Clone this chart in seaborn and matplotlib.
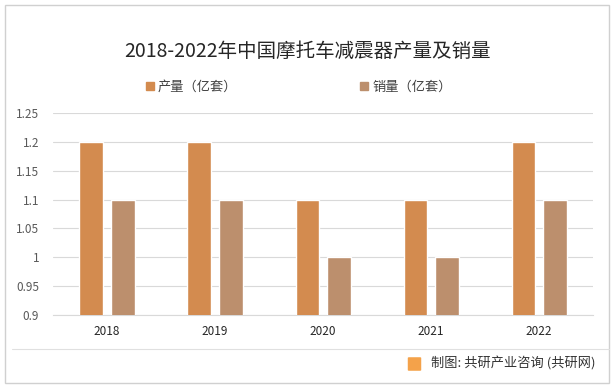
import matplotlib
matplotlib.use("Agg")
import numpy as np
import pandas as pd
import matplotlib.pyplot as plt
import seaborn as sns
from matplotlib.patches import Rectangle, FancyBboxPatch
from matplotlib.lines import Line2D

years = ['2018', '2019', '2020', '2021', '2022']
production = [1.2, 1.2, 1.1, 1.1, 1.2]
sales = [1.1, 1.1, 1.0, 1.0, 1.1]
series_names = ['产量（亿套）', '销量（亿套）']
colors = ['#D38B4F', '#BC8F6D']
y_ticks = [0.9, 0.95, 1.0, 1.05, 1.1, 1.15, 1.2, 1.25]
y_labels = ['0.9', '0.95', '1', '1.05', '1.1', '1.15', '1.2', '1.25']

df = pd.DataFrame({
    'year': years * 2,
    'value': production + sales,
    'series': [series_names[0]] * 5 + [series_names[1]] * 5,
})

sns.set_style('white')
plt.rcParams['font.family'] = ['Noto Sans CJK SC', 'DejaVu Sans']

fig = plt.figure(figsize=(6.16, 3.87), dpi=100)
ax = fig.add_axes([0.086, 0.186, 0.877, 0.522])

sns.barplot(data=df, x='year', y='value', hue='series', palette=colors,
            saturation=1, width=0.58, gap=0.24, ax=ax, legend=False, zorder=3)

ax.set_ylim(0.9, 1.25)
ax.set_yticks(y_ticks)
ax.set_yticklabels(y_labels)
ax.set_xlim(-0.5, 4.5)
ax.yaxis.grid(True, color='#D9D9D9', linewidth=0.8, zorder=0)
ax.set_axisbelow(True)
for s in ['top', 'right', 'left']:
    ax.spines[s].set_visible(False)
ax.spines['bottom'].set_color('#D9D9D9')
ax.spines['bottom'].set_linewidth(0.8)
ax.tick_params(axis='y', length=0, labelsize=8.5, labelcolor='#595959', pad=10)
ax.tick_params(axis='x', length=0, labelsize=8.5, labelcolor='#262626', pad=7)
ax.set_xlabel('')
ax.set_ylabel('')

fig.text(0.5, 0.868, '2018-2022年中国摩托车减震器产量及销量', ha='center', va='center',
         fontsize=14, color='#262626')

# legend
handles = [Rectangle((0, 0), 1, 1, color=c) for c in colors]
fig.legend(handles, series_names, loc='center', bbox_to_anchor=(0.485, 0.775), ncol=2,
           frameon=False, fontsize=9.5, handlelength=0.6, handleheight=0.6,
           handletextpad=0.3, columnspacing=9.3, labelcolor='#404040')

# outer border and footer
fig.add_artist(Rectangle((5 / 616, 4 / 387), 604 / 616, 378 / 387, transform=fig.transFigure,
                         fill=False, edgecolor='#D0D0D0', linewidth=1))
fig.add_artist(Line2D([0.02, 0.988], [1 - 349 / 387, 1 - 349 / 387], transform=fig.transFigure,
                      color='#E0E0E0', linewidth=0.8))
fig.add_artist(FancyBboxPatch((409 / 616, 1 - 370 / 387), 11 / 616, 12 / 387,
                              boxstyle='round,pad=0.002', transform=fig.transFigure,
                              facecolor='#F4A24A', edgecolor='none'))
fig.text(431 / 616, 1 - 364 / 387, '制图: 共研产业咨询 (共研网)', ha='left', va='center',
         fontsize=9.5, color='#333333')

fig.savefig('out.png', dpi=100)
